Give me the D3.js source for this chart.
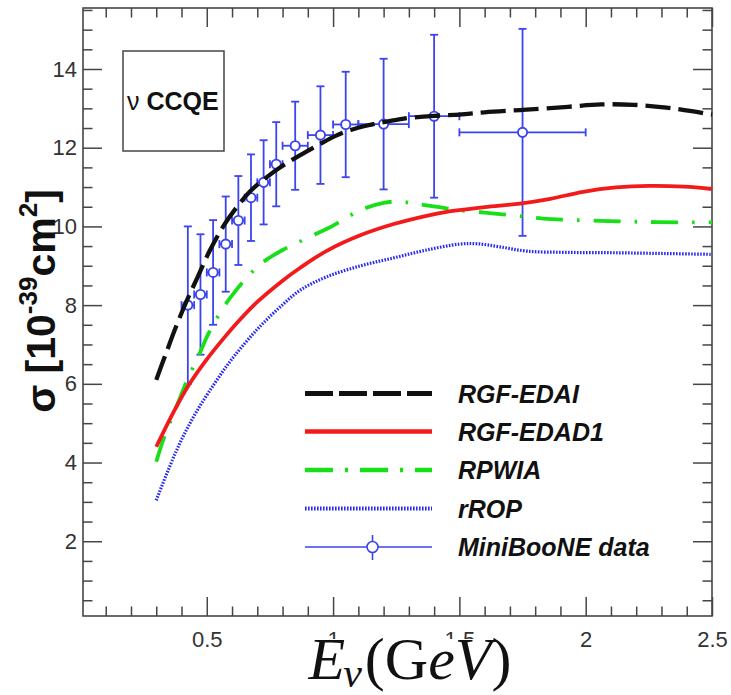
<!DOCTYPE html>
<html>
<head>
<meta charset="utf-8">
<script src="https://cdn.jsdelivr.net/npm/d3@7"></script>
<style>
  body { margin: 0; background: #fff; }
  svg { display: block; }
</style>
</head>
<body>
<svg id="chart" width="731" height="695"></svg>
<script>
// ---- axis ranges and ticks ----
const xDomain = [0.01, 2.5];
const yDomain = [0.1, 15.55];
const xMajorTicks = [0.5, 1, 1.5, 2, 2.5];
const xTickLabels = ["0.5", "1", "1.5", "2", "2.5"];
const yMajorTicks = [2, 4, 6, 8, 10, 12, 14];
const yTickLabels = ["2", "4", "6", "8", "10", "12", "14"];
const xMinorStep = 0.1;
const yMinorStep = 0.5;

// ---- MiniBooNE CCQE data (sigma in 1e-39 cm^2) ----
const dataEnergy = [0.425, 0.475, 0.525, 0.575, 0.625, 0.675, 0.725, 0.775, 0.85, 0.95, 1.05, 1.2, 1.4, 1.75];
const dataBinLow = [0.40, 0.45, 0.50, 0.55, 0.60, 0.65, 0.70, 0.75, 0.80, 0.90, 1.00, 1.10, 1.30, 1.50];
const dataBinHigh = [0.45, 0.50, 0.55, 0.60, 0.65, 0.70, 0.75, 0.80, 0.90, 1.00, 1.10, 1.30, 1.50, 2.00];
const dataSigma = [8.00, 8.27, 8.83, 9.55, 10.15, 10.73, 11.12, 11.58, 12.05, 12.32, 12.59, 12.60, 12.80, 12.39];
const dataError = [2.00, 1.53, 1.33, 1.21, 1.13, 1.10, 1.07, 1.07, 1.12, 1.24, 1.34, 1.66, 2.07, 2.63];

// ---- model curves ----
const edaiEnergy = [0.30, 0.34, 0.38, 0.42, 0.46, 0.51, 0.57, 0.62, 0.67, 0.735, 0.80, 0.87, 0.95, 1.01, 1.07, 1.14, 1.20, 1.28, 1.40, 1.50, 1.60, 1.75, 1.93, 2.06, 2.19, 2.32, 2.42, 2.50];
const edaiSigma = [6.10, 6.80, 7.48, 8.10, 8.66, 9.36, 10.05, 10.50, 10.88, 11.24, 11.54, 11.81, 12.10, 12.30, 12.45, 12.57, 12.65, 12.74, 12.81, 12.84, 12.90, 12.96, 13.04, 13.10, 13.09, 13.02, 12.93, 12.84];

const edad1Energy = [0.30, 0.37, 0.43, 0.50, 0.57, 0.63, 0.70, 0.80, 0.87, 0.975, 1.11, 1.24, 1.37, 1.46, 1.60, 1.74, 1.86, 1.99, 2.12, 2.25, 2.39, 2.50];
const edad1Sigma = [4.40, 5.30, 5.98, 6.62, 7.18, 7.62, 8.08, 8.62, 8.95, 9.38, 9.78, 10.06, 10.27, 10.38, 10.49, 10.58, 10.70, 10.88, 10.99, 11.03, 11.01, 10.95];

const rpwiaEnergy = [0.30, 0.33, 0.38, 0.42, 0.47, 0.51, 0.57, 0.625, 0.67, 0.72, 0.80, 0.86, 0.92, 1.00, 1.05, 1.11, 1.20, 1.265, 1.33, 1.42, 1.49, 1.60, 1.73, 1.83, 2.06, 2.28, 2.50];
const rpwiaSigma = [4.02, 4.62, 5.42, 6.05, 6.75, 7.32, 7.98, 8.45, 8.78, 9.08, 9.40, 9.59, 9.77, 10.02, 10.21, 10.42, 10.60, 10.63, 10.57, 10.49, 10.42, 10.35, 10.27, 10.20, 10.14, 10.11, 10.10];

const ropEnergy = [0.30, 0.35, 0.40, 0.46, 0.53, 0.59, 0.66, 0.72, 0.79, 0.87, 0.975, 1.11, 1.24, 1.37, 1.50, 1.57, 1.66, 1.77, 1.93, 2.12, 2.32, 2.50];
const ropSigma = [3.04, 3.85, 4.58, 5.30, 6.00, 6.55, 7.10, 7.52, 7.95, 8.38, 8.72, 9.00, 9.20, 9.40, 9.55, 9.56, 9.48, 9.37, 9.34, 9.33, 9.31, 9.29];

const legendNames = ["RGF-EDAI", "RGF-EDAD1", "RPWIA", "rROP", "MiniBooNE data"];

// ---- drawing ----
const svg = d3.select("#chart");
const W = 731, H = 695;
const M = { left: 83, right: 712, top: 8, bottom: 616 };
const SANS = '"Liberation Sans", Arial, Helvetica, sans-serif';
const SERIF = '"Liberation Serif", "Times New Roman", serif';
const AXIS_COLOR = "#454545";
const DATA_COLOR = "#3b44ee";

svg.append("rect").attr("width", W).attr("height", H).attr("fill", "#fff");

const x = d3.scaleLinear().domain(xDomain).range([M.left, M.right]);
const y = d3.scaleLinear().domain(yDomain).range([M.bottom, M.top]);

function minorTicks(domain, step, majors) {
  const out = [];
  for (let v = Math.ceil(domain[0] / step) * step; v <= domain[1] + 1e-9; v += step) {
    const r = Math.round(v * 1000) / 1000;
    if (!majors.some(m => Math.abs(m - r) < 1e-6)) out.push(r);
  }
  return out;
}
const xMinor = minorTicks(xDomain, xMinorStep, xMajorTicks);
const yMinor = minorTicks(yDomain, yMinorStep, yMajorTicks);

function styleAxis(g) {
  g.select(".domain").remove();
  g.selectAll(".tick line").attr("stroke", AXIS_COLOR).attr("stroke-width", 1.5);
  g.selectAll(".tick text").attr("fill", "#333").style("font-family", SANS).style("font-size", "22px");
}

const MAJOR = 19, MINOR = 9.5;

// bottom axis
svg.append("g").attr("transform", `translate(0,${M.bottom})`)
  .call(d3.axisBottom(x).tickValues(xMajorTicks).tickFormat((d, i) => xTickLabels[i])
    .tickSizeInner(-MAJOR).tickSizeOuter(0).tickPadding(15))
  .call(styleAxis);
svg.append("g").attr("transform", `translate(0,${M.bottom})`)
  .call(d3.axisBottom(x).tickValues(xMinor).tickFormat("").tickSizeInner(-MINOR).tickSizeOuter(0))
  .call(styleAxis);
// top axis
svg.append("g").attr("transform", `translate(0,${M.top})`)
  .call(d3.axisTop(x).tickValues(xMajorTicks).tickFormat("").tickSizeInner(-MAJOR).tickSizeOuter(0))
  .call(styleAxis);
svg.append("g").attr("transform", `translate(0,${M.top})`)
  .call(d3.axisTop(x).tickValues(xMinor).tickFormat("").tickSizeInner(-MINOR).tickSizeOuter(0))
  .call(styleAxis);
// left axis
svg.append("g").attr("transform", `translate(${M.left},0)`)
  .call(d3.axisLeft(y).tickValues(yMajorTicks).tickFormat((d, i) => yTickLabels[i])
    .tickSizeInner(-MAJOR).tickSizeOuter(0).tickPadding(6))
  .call(styleAxis);
svg.append("g").attr("transform", `translate(${M.left},0)`)
  .call(d3.axisLeft(y).tickValues(yMinor).tickFormat("").tickSizeInner(-MINOR).tickSizeOuter(0))
  .call(styleAxis);
// right axis
svg.append("g").attr("transform", `translate(${M.right},0)`)
  .call(d3.axisRight(y).tickValues(yMajorTicks).tickFormat("").tickSizeInner(-MAJOR).tickSizeOuter(0))
  .call(styleAxis);
svg.append("g").attr("transform", `translate(${M.right},0)`)
  .call(d3.axisRight(y).tickValues(yMinor).tickFormat("").tickSizeInner(-MINOR).tickSizeOuter(0))
  .call(styleAxis);

// frame
svg.append("rect")
  .attr("x", M.left).attr("y", M.top)
  .attr("width", M.right - M.left).attr("height", M.bottom - M.top)
  .attr("fill", "none").attr("stroke", AXIS_COLOR).attr("stroke-width", 1.6);

// ---- data points with error bars ----
const data = dataEnergy.map((e, i) => ({
  e, lo: dataBinLow[i], hi: dataBinHigh[i], s: dataSigma[i], err: dataError[i]
}));
const gData = svg.append("g").attr("stroke", DATA_COLOR).attr("stroke-width", 1.8).attr("fill", "none");
const CAP = 4;
const pts = gData.selectAll("g.pt").data(data).join("g").attr("class", "pt");
pts.append("line")
  .attr("x1", d => x(d.e)).attr("x2", d => x(d.e))
  .attr("y1", d => y(d.s - d.err)).attr("y2", d => y(d.s + d.err));
pts.append("line")
  .attr("x1", d => x(d.e) - CAP).attr("x2", d => x(d.e) + CAP)
  .attr("y1", d => y(d.s + d.err)).attr("y2", d => y(d.s + d.err));
pts.append("line")
  .attr("x1", d => x(d.e) - CAP).attr("x2", d => x(d.e) + CAP)
  .attr("y1", d => y(d.s - d.err)).attr("y2", d => y(d.s - d.err));
pts.append("line")
  .attr("x1", d => x(d.lo)).attr("x2", d => x(d.hi))
  .attr("y1", d => y(d.s)).attr("y2", d => y(d.s));
pts.append("line")
  .attr("x1", d => x(d.lo)).attr("x2", d => x(d.lo))
  .attr("y1", d => y(d.s) - CAP).attr("y2", d => y(d.s) + CAP);
pts.append("line")
  .attr("x1", d => x(d.hi)).attr("x2", d => x(d.hi))
  .attr("y1", d => y(d.s) - CAP).attr("y2", d => y(d.s) + CAP);
pts.append("circle")
  .attr("cx", d => x(d.e)).attr("cy", d => y(d.s)).attr("r", 4.6)
  .attr("fill", "#fff").attr("stroke-width", 1.9);

// ---- model curves ----
const curveStyles = [
  { E: edaiEnergy, S: edaiSigma, color: "#111", width: 4.3, dash: "25,8", legendDash: "28,6" },
  { E: edad1Energy, S: edad1Sigma, color: "#f21a1a", width: 3.8, dash: null, legendDash: null },
  { E: rpwiaEnergy, S: rpwiaSigma, color: "#18e018", width: 3.8, dash: "27,14,2.5,14", legendDash: "28,12,3,12" },
  { E: ropEnergy, S: ropSigma, color: "#2a2af0", width: 3.2, dash: "1.6,1.4", legendDash: "1.6,1.4" }
];
const line = d3.line().x(d => x(d[0])).y(d => y(d[1])).curve(d3.curveCatmullRom.alpha(0.5));
const gCurves = svg.append("g").attr("fill", "none");
curveStyles.slice().reverse().forEach(c => {
  gCurves.append("path")
    .attr("d", line(c.E.map((e, i) => [e, c.S[i]])))
    .attr("stroke", c.color).attr("stroke-width", c.width)
    .attr("stroke-dasharray", c.dash);
});

// ---- legend ----
const legendRows = [393.5, 431.5, 470, 508.5, 547];
const lx0 = 305, lx1 = 432, ltx = 458;
const gLeg = svg.append("g");
curveStyles.forEach((c, i) => {
  gLeg.append("line")
    .attr("x1", lx0).attr("x2", lx1).attr("y1", legendRows[i]).attr("y2", legendRows[i])
    .attr("stroke", c.color).attr("stroke-width", c.width + 0.8)
    .attr("stroke-dasharray", c.legendDash);
});
{
  const yy = legendRows[4], cx = (lx0 + lx1) / 2 + 4;
  gLeg.append("line").attr("x1", lx0).attr("x2", lx1).attr("y1", yy).attr("y2", yy)
    .attr("stroke", DATA_COLOR).attr("stroke-width", 1.6);
  gLeg.append("line").attr("x1", cx).attr("x2", cx).attr("y1", yy - 12).attr("y2", yy + 13)
    .attr("stroke", DATA_COLOR).attr("stroke-width", 1.6);
  gLeg.append("circle").attr("cx", cx).attr("cy", yy).attr("r", 5.5)
    .attr("fill", "#fff").attr("stroke", DATA_COLOR).attr("stroke-width", 1.6);
}
gLeg.selectAll("text.leg").data(legendNames).join("text").attr("class", "leg")
  .attr("x", ltx).attr("y", (d, i) => legendRows[i])
  .attr("dy", "0.36em")
  .style("font-family", SANS).style("font-size", "25px")
  .style("font-weight", "bold").style("font-style", "italic")
  .attr("fill", "#111")
  .text(d => d);

// ---- process label box ----
svg.append("rect").attr("x", 123).attr("y", 51).attr("width", 101).attr("height", 100)
  .attr("fill", "#fff").attr("stroke", AXIS_COLOR).attr("stroke-width", 1.5);
const tBox = svg.append("text").attr("x", 127).attr("y", 110)
  .style("font-family", SANS).style("font-size", "25px").attr("fill", "#111");
tBox.append("tspan").text("ν ");
tBox.append("tspan").style("font-weight", "bold").text("CCQE");

// ---- y axis title ----
const yTitle = svg.append("text")
  .attr("transform", "translate(55,301) rotate(-90)")
  .attr("text-anchor", "middle")
  .style("font-family", SANS).style("font-size", "41px").style("font-weight", "bold")
  .attr("fill", "#111");
yTitle.append("tspan").text("σ [10");
yTitle.append("tspan").attr("dy", -18).style("font-size", "26px").text("-39");
yTitle.append("tspan").attr("dy", 18).text("cm");
yTitle.append("tspan").attr("dy", -18).style("font-size", "26px").text("2");
yTitle.append("tspan").attr("dy", 18).text("]");

// ---- x axis title on a white plate ----
svg.append("rect").attr("x", 295).attr("y", 639).attr("width", 232).attr("height", 56).attr("fill", "#fff");
const xTitle = svg.append("text").attr("x", 410).attr("y", 679)
  .attr("text-anchor", "middle")
  .style("font-family", SERIF).style("font-size", "60px").attr("fill", "#111");
xTitle.append("tspan").style("font-style", "italic").text("E");
xTitle.append("tspan").style("font-style", "italic").style("font-size", "42px").attr("dy", 8).attr("dx", -2).text("ν");
xTitle.append("tspan").attr("dy", -8).attr("dx", 3).text("(G");
xTitle.append("tspan").style("font-style", "italic").text("eV");
xTitle.append("tspan").text(")");
</script>
</body>
</html>
